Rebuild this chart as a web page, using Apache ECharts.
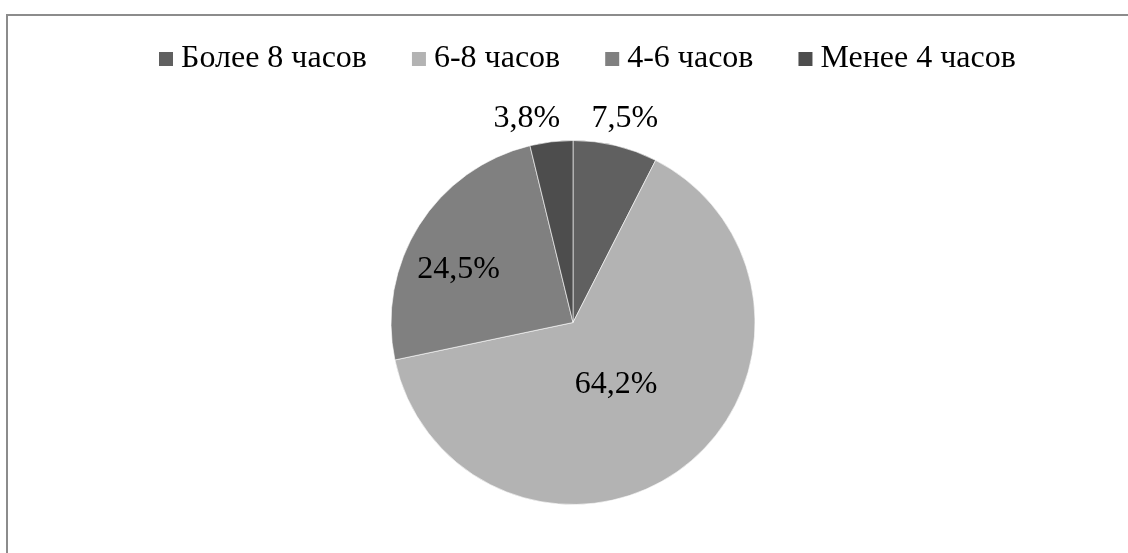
<!DOCTYPE html>
<html>
<head>
<meta charset="utf-8">
<script src="https://cdn.jsdelivr.net/npm/echarts@6/dist/echarts.min.js"></script>
<style>
html,body{margin:0;padding:0;background:#fff;}
#chart{width:1128px;height:553px;}
</style>
</head>
<body>
<div id="chart"></div>
<script>
const categories = ['Более 8 часов', '6-8 часов', '4-6 часов', 'Менее 4 часов'];
const values = [7.5, 64.2, 24.5, 3.8];
const valueLabels = ['7,5%', '64,2%', '24,5%', '3,8%'];
const colors = ['#606060', '#b3b3b3', '#808080', '#4d4d4d'];
const labelOffsets = [[30, -113], [-14, -13], [-35, -3], [-35, -111]];

const chart = echarts.init(document.getElementById('chart'), null, {renderer: 'canvas'});
const FONT = '"Liberation Serif", "Times New Roman", serif';

const option = {
  animation: false,
  backgroundColor: '#ffffff',
  graphic: [{
    type: 'rect',
    shape: {x: 7, y: 15, width: 1140, height: 560},
    style: {fill: 'none', stroke: '#8c8c8c', lineWidth: 2},
    silent: true
  }],
  legend: {
    left: 157,
    top: 43,
    padding: 0,
    itemWidth: 16,
    itemHeight: 16,
    itemGap: 43,
    icon: 'rect',
    textStyle: {fontFamily: FONT, fontSize: 32, color: '#000', padding: [0, 0, 0, 2], lineHeight: 32},
    data: categories
  },
  series: [{
    type: 'pie',
    center: [573, 322.5],
    radius: 182,
    startAngle: 90,
    clockwise: true,
    avoidLabelOverlap: false,
    itemStyle: {borderColor: '#ffffff', borderWidth: 0.6},
    labelLine: {show: false},
    data: categories.map((c, i) => ({
      name: c,
      value: values[i],
      itemStyle: {color: colors[i]},
      label: {
        show: true,
        position: 'inside',
        formatter: valueLabels[i],
        offset: labelOffsets[i],
        fontFamily: FONT,
        fontSize: 32,
        color: '#000'
      }
    }))
  }]
};
chart.setOption(option);
</script>
</body>
</html>
